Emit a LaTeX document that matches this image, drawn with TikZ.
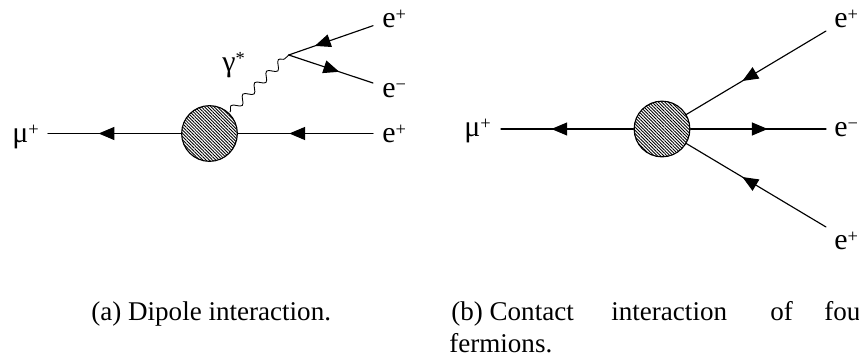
\documentclass[tikz,border=0pt]{standalone}
\usepackage{fontspec}
\setmainfont{Liberation Serif}
\usetikzlibrary{arrows.meta,decorations.markings,decorations.pathmorphing,patterns.meta}
\newcommand{\ChargeSup}[1]{\raisebox{.26em}{\fontsize{10.5}{11}\selectfont #1}}
\tikzset{
  fermion/.style={line width=.65pt,postaction={decorate},
    decoration={markings,mark=at position #1 with {\arrow{Triangle[length=9pt,width=7.4pt]}}}},
  photon/.style={line width=.5pt,decorate,decoration={snake,segment length=9.4pt,amplitude=2.2pt}},
  blob/.style={circle,draw,line width=.65pt,minimum size=31.7pt,inner sep=0pt,fill=white,
    postaction={pattern={Lines[angle=-45,distance=1.3pt,line width=.5pt]}}},
  particle label/.style={font=\fontsize{17}{20}\selectfont,inner sep=0pt,anchor=base west},
  caption text/.style={font=\fontsize{15.4}{18}\selectfont,inner sep=0pt,anchor=base west}
}
\begin{document}
\begin{tikzpicture}[x=.02cm,y=-.02cm,line cap=round,line join=round]
  \useasboundingbox (0,0) rectangle (859,361);

  \node[blob] (blobA) at (209.5,133.5) {};
  \coordinate (muA) at (48,133.5);
  \coordinate (eInA) at (373,133.5);
  \coordinate (vertexA) at (288.7,55);
  \coordinate (ePlusA) at (373,25.7);
  \coordinate (eMinusA) at (373,83);
  \coordinate (photonA) at (230,112);

  \draw[fermion=.62] (blobA) -- (muA);
  \draw[fermion=.62] (eInA) -- (blobA);
  \draw[fermion=.69] (ePlusA) -- (vertexA);
  \draw[fermion=.6] (vertexA) -- (eMinusA);
  \draw[photon] (photonA) -- (vertexA);

  \node[particle label] (labelMuA) at (12,143) {μ\ChargeSup{+}};
  \node[particle label] (labelGammaA) at (222,72) {γ\ChargeSup{*}};
  \node[particle label] (labelEPlusA) at (382,28) {e\ChargeSup{+}};
  \node[particle label] (labelEMinusA) at (382,98) {e\ChargeSup{−}};
  \node[particle label] (labelEInA) at (382,143) {e\ChargeSup{+}};

  \node[blob] (blobB) at (662,129) {};
  \coordinate (muB) at (501,129);
  \coordinate (ePlusB) at (826,31);
  \coordinate (eMinusB) at (826,129);
  \coordinate (eLowB) at (826,227);

  \draw[fermion=.62] (blobB) -- (muB);
  \draw[fermion=.57] (blobB) -- (eMinusB);
  \draw[fermion=.6] (ePlusB) -- (blobB);
  \draw[fermion=.6] (eLowB) -- (blobB);

  \node[particle label] (labelMuB) at (464,137) {μ\ChargeSup{+}};
  \node[particle label] (labelEPlusB) at (834,28) {e\ChargeSup{+}};
  \node[particle label] (labelEMinusB) at (834,137) {e\ChargeSup{−}};
  \node[particle label] (labelELowB) at (834,250) {e\ChargeSup{+}};

  \node[caption text] (captionA) at (91,320) {(a) Dipole interaction.};
  \node[caption text] (captionB) at (451,320) {(b) Contact};
  \node[caption text] (captionInter) at (611,320) {interaction};
  \node[caption text] (captionOf) at (770,320) {of};
  \node[caption text] (captionFou) at (824,320) {fou};
  \node[caption text] (captionFerm) at (449,352.5) {fermions.};
\end{tikzpicture}
\end{document}
